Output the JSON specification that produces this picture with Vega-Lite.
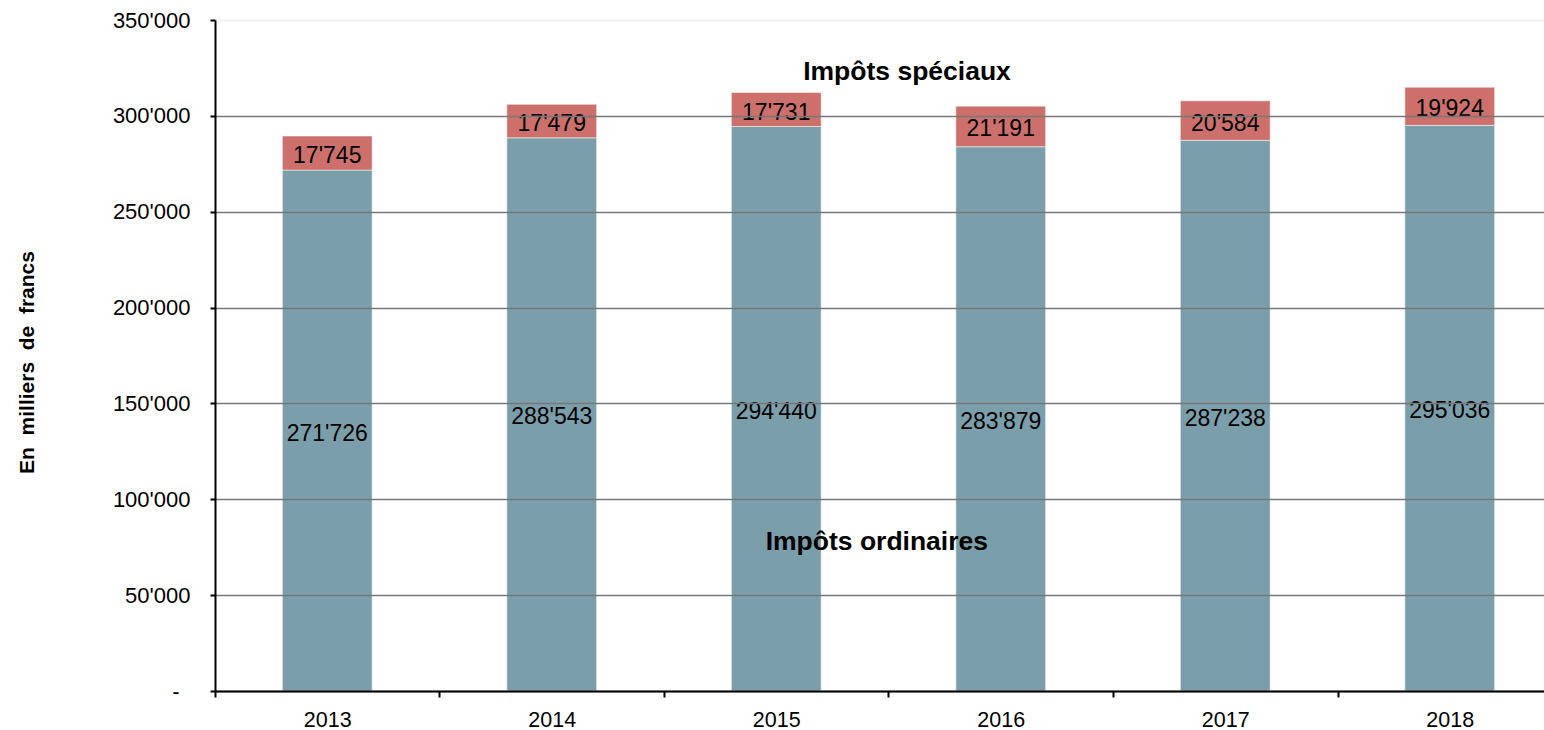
{
  "$schema": "https://vega.github.io/schema/vega-lite/v6.json",
  "autosize": {"type": "none"},
  "padding": {"left": 215, "top": 20, "right": 0, "bottom": 39},
  "width": 1329,
  "height": 671,
  "config": {
    "view": {"stroke": null},
    "font": "Liberation Sans",
    "locale": {"number": {"decimal": ".", "thousands": "'", "grouping": [3], "currency": ["", ""]}}
  },
  "data": {
    "values": [
      {"year": "2013", "type": "Impôts ordinaires", "value": 271726},
      {"year": "2013", "type": "Impôts spéciaux", "value": 17745},
      {"year": "2014", "type": "Impôts ordinaires", "value": 288543},
      {"year": "2014", "type": "Impôts spéciaux", "value": 17479},
      {"year": "2015", "type": "Impôts ordinaires", "value": 294440},
      {"year": "2015", "type": "Impôts spéciaux", "value": 17731},
      {"year": "2016", "type": "Impôts ordinaires", "value": 283879},
      {"year": "2016", "type": "Impôts spéciaux", "value": 21191},
      {"year": "2017", "type": "Impôts ordinaires", "value": 287238},
      {"year": "2017", "type": "Impôts spéciaux", "value": 20584},
      {"year": "2018", "type": "Impôts ordinaires", "value": 295036},
      {"year": "2018", "type": "Impôts spéciaux", "value": 19924}
    ]
  },
  "layer": [
    {
      "mark": {"type": "bar", "stroke": "white", "strokeWidth": 1, "strokeOpacity": 0.5},
      "encoding": {
        "x": {
          "field": "year", "type": "ordinal",
          "scale": {"range": [0, 1347], "paddingInner": 0.6, "paddingOuter": 0.3},
          "axis": {
            "title": null, "labelAngle": 0, "labelFontSize": 21.5, "labelColor": "black",
            "labelPadding": 12, "bandPosition": 0.5, "tickOffset": -112.25, "labelOffset": 112.25,
            "tickSize": 6, "tickColor": "black",
            "tickWidth": 2, "domainColor": "black", "domainWidth": 2, "grid": false, "zindex": 1
          }
        },
        "y": {
          "field": "value", "type": "quantitative", "stack": "zero",
          "scale": {"domain": [0, 350000], "nice": false},
          "axis": {
            "values": [0, 50000, 100000, 150000, 200000, 250000, 300000, 350000],
            "format": ",d",
            "labelExpr": "datum.value === 0 ? '-' : datum.label",
            "labelFontSize": 22, "labelColor": "black",
            "labelPadding": {"condition": {"test": "datum.value === 0", "value": 31}, "value": 20},
            "tickSize": 5, "tickColor": "black", "tickWidth": 2,
            "domainColor": "black", "domainWidth": 2,
            "grid": true,
            "gridColor": {"condition": {"test": "datum.value === 350000", "value": "#eeeeee"}, "value": "#777777"},
            "gridWidth": 1.5,
            "zindex": 1,
            "title": "En\u00a0 milliers\u00a0 de\u00a0 francs",
            "titleFontSize": 21, "titleFontWeight": "bold", "titleColor": "black",
            "titleX": -188, "titleY": 342, "titleAngle": -90,
            "titleAlign": "center", "titleBaseline": "middle"
          }
        },
        "color": {
          "field": "type", "type": "nominal",
          "scale": {"domain": ["Impôts ordinaires", "Impôts spéciaux"], "range": ["#7B9FAA", "#CD706C"]},
          "legend": null
        },
        "order": {"field": "type", "type": "nominal", "sort": "ascending"}
      }
    },
    {
      "mark": {"type": "text", "fontSize": 23, "baseline": "middle", "color": "black", "dy": 3},
      "encoding": {
        "x": {"field": "year", "type": "ordinal"},
        "y": {"field": "value", "type": "quantitative", "stack": "zero", "bandPosition": 0.5},
        "detail": {"field": "type", "type": "nominal"},
        "order": {"field": "type", "type": "nominal", "sort": "ascending"},
        "text": {"field": "value", "type": "quantitative", "format": ",d"}
      }
    },
    {
      "data": {"values": [{}]},
      "mark": {"type": "text", "fontSize": 26.5, "fontWeight": "bold", "baseline": "middle", "color": "black", "text": "Impôts spéciaux"},
      "encoding": {
        "x": {"datum": "2015", "type": "ordinal", "bandPosition": 1.956},
        "y": {"datum": 322876, "type": "quantitative"}
      }
    },
    {
      "data": {"values": [{}]},
      "mark": {"type": "text", "fontSize": 26.5, "fontWeight": "bold", "baseline": "middle", "color": "black", "text": "Impôts ordinaires"},
      "encoding": {
        "x": {"datum": "2015", "type": "ordinal", "bandPosition": 1.62},
        "y": {"datum": 77877, "type": "quantitative"}
      }
    }
  ]
}
